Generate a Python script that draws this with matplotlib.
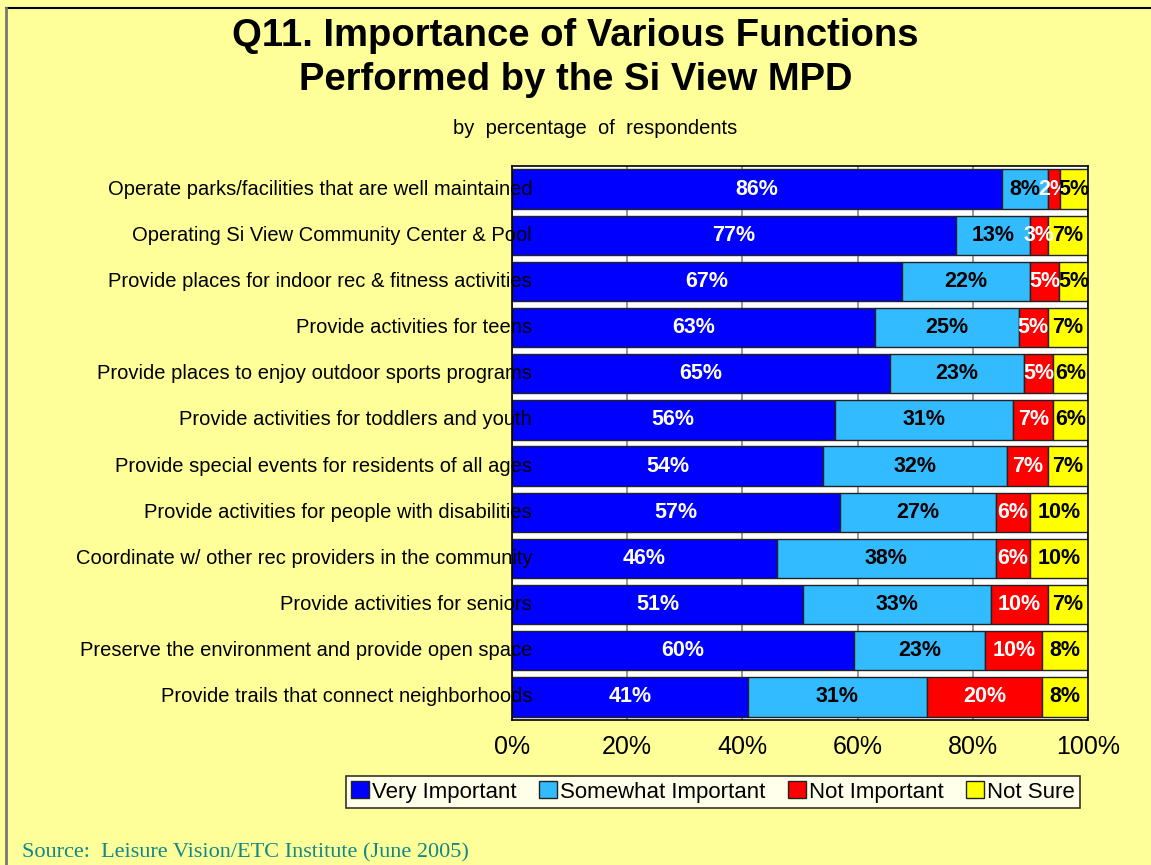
import numpy as np
import matplotlib.pyplot as plt

plt.rcParams['font.family'] = ['Liberation Sans', 'DejaVu Sans']

categorias = [
    "Operate parks/facilities that are well maintained",
    "Operating Si View Community Center & Pool",
    "Provide places for indoor rec & fitness activities",
    "Provide activities for teens",
    "Provide places to enjoy outdoor sports programs",
    "Provide activities for toddlers and youth",
    "Provide special events for residents of all ages",
    "Provide activities for people with disabilities",
    "Coordinate w/ other rec providers in the community",
    "Provide activities for seniors",
    "Preserve the environment and provide open space",
    "Provide trails that connect neighborhoods",
]
muito_importante = [86, 77, 67, 63, 65, 56, 54, 57, 46, 51, 60, 41]
algo_importante = [8, 13, 22, 25, 23, 31, 32, 27, 38, 33, 23, 31]
nao_importante = [2, 3, 5, 5, 5, 7, 7, 6, 6, 10, 10, 20]
nao_sei = [5, 7, 5, 7, 6, 6, 7, 10, 10, 7, 8, 8]

series = ["Very Important", "Somewhat Important", "Not Important", "Not Sure"]
cores = ["#0000FF", "#33BBFF", "#FF0000", "#FFFF00"]
cores_texto = ["white", "black", "white", "black"]
ticks_x = [0, 20, 40, 60, 80, 100]

fundo = "#FFFF99"

fig = plt.figure(figsize=(11.51, 8.65), dpi=100, facecolor=fundo)
ax = fig.add_axes([0.4448, 0.1676, 0.5005, 0.6405])
ax.set_facecolor("white")

dados = np.array([muito_importante, algo_importante, nao_importante, nao_sei], dtype=float)
totais = dados.sum(axis=0)
normal = dados / totais * 100

y = np.arange(len(categorias))
esquerda = np.zeros(len(categorias))
barras = []
for k in range(4):
    b = ax.barh(y, normal[k], left=esquerda, height=0.85, color=cores[k],
                edgecolor="#222222", linewidth=1, zorder=2, label=series[k])
    barras.append(b)
    for i in range(len(categorias)):
        ax.text(esquerda[i] + normal[k][i] / 2, y[i], f"{int(dados[k][i])}%",
                ha="center", va="center", fontsize=15.5, fontweight="bold",
                color=cores_texto[k], zorder=4)
    esquerda += normal[k]

for i, c in enumerate(categorias):
    ax.text(3.5, y[i], c, ha="right", va="center", fontsize=14.5, color="black",
            zorder=5, clip_on=False)

ax.set_ylim(len(categorias) - 0.5, -0.5)
ax.set_xlim(0, 100)
ax.set_yticks([])
ax.set_xticks(ticks_x)
ax.set_xticklabels([f"{t}%" for t in ticks_x], fontsize=18)
ax.tick_params(axis="x", length=0, pad=11)
ax.grid(axis="x", color="#888888", linewidth=1.2, zorder=1)
ax.set_axisbelow(True)
for s in ax.spines.values():
    s.set_color("black")
    s.set_linewidth(1.2)

fig.text(0.5, 0.958, "Q11. Importance of Various Functions", ha="center", va="center",
         fontsize=27.5, fontweight="bold")
fig.text(0.5, 0.908, "Performed by the Si View MPD", ha="center", va="center",
         fontsize=27.5, fontweight="bold")
fig.text(0.517, 0.852, "by  percentage  of  respondents", ha="center", va="center", fontsize=14.5)

leg = fig.legend(handles=barras, labels=series, loc="center", bbox_to_anchor=(0.6195, 0.0845),
                 ncol=4, fontsize=16, frameon=True, fancybox=False, edgecolor="black",
                 handlelength=0.8, handleheight=0.8, handletextpad=0.15, columnspacing=1.0,
                 borderpad=0.25, borderaxespad=0)
leg.get_frame().set_linewidth(1.2)

fig.text(0.019, 0.003, "Source:  Leisure Vision/ETC Institute (June 2005)", ha="left", va="bottom",
         fontsize=16, color="#108888", family=["Liberation Serif", "DejaVu Serif"])

# moldura
fig.add_artist(plt.Line2D([0.005, 1], [0.991, 0.991], color="black", linewidth=1.5))
fig.add_artist(plt.Line2D([0.0055, 0.0055], [0, 0.991], color="#777777", linewidth=2))

fig.savefig("out.png", dpi=100, facecolor=fundo)
